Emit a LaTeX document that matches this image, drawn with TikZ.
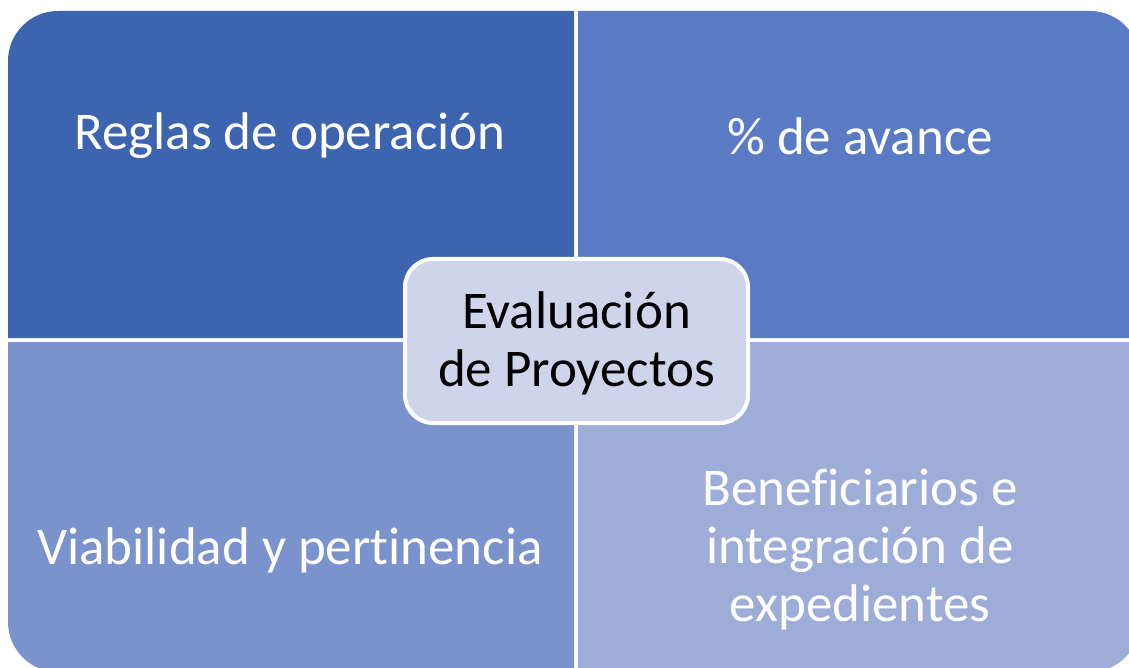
\documentclass[tikz,border=0pt]{standalone}
\usepackage{fontspec}
\setmainfont{Carlito}[Ligatures={NoCommon}]
\definecolor{qTL}{HTML}{3D65AF}
\definecolor{qTR}{HTML}{5A7BC4}
\definecolor{qBL}{HTML}{7A93CC}
\definecolor{qBR}{HTML}{9DADD8}
\definecolor{qC}{HTML}{CED4EA}
\begin{document}
\begin{tikzpicture}[x=1pt,y=-1pt,
  qtext/.style={text=white,font=\fontsize{53}{58}\selectfont,align=center},
  ctext/.style={text=black,font=\fontsize{53}{58}\selectfont,align=center}]
\useasboundingbox (0,0) rectangle (1129,668);
\begin{scope}
\clip (0,0) rectangle (1129,668);
% top-left
\fill[qTL] (8,338) -- (8,61) arc[start angle=180,end angle=270,radius=50] -- (574,11) -- (574,338) -- cycle;
% top-right
\fill[qTR] (578,11) -- (1090,11) arc[start angle=270,end angle=360,radius=50] -- (1140,338) -- (578,338) -- cycle;
% bottom-left
\fill[qBL] (8,342) -- (574,342) -- (574,672) -- (58,672) arc[start angle=90,end angle=180,radius=50] -- cycle;
% bottom-right
\fill[qBR] (578,342) -- (1140,342) -- (1140,622) arc[start angle=0,end angle=90,radius=50] -- (578,672) -- cycle;
\end{scope}
\node[qtext] (tl) at (290,136) {Reglas de operación};
\node[qtext] (tr) at (860,136) {\% de avance};
\node[qtext] (bl) at (290,550) {Viabilidad y pertinencia};
\node[qtext] (br) at (860,550) {Beneficiarios e\\integración de\\expedientes};
\draw[white,line width=4pt,fill=qC,rounded corners=28pt] (405,259) rectangle (748,423);
\node[ctext] (c) at (576.5,343) {Evaluación\\de Proyectos};
\end{tikzpicture}
\end{document}
